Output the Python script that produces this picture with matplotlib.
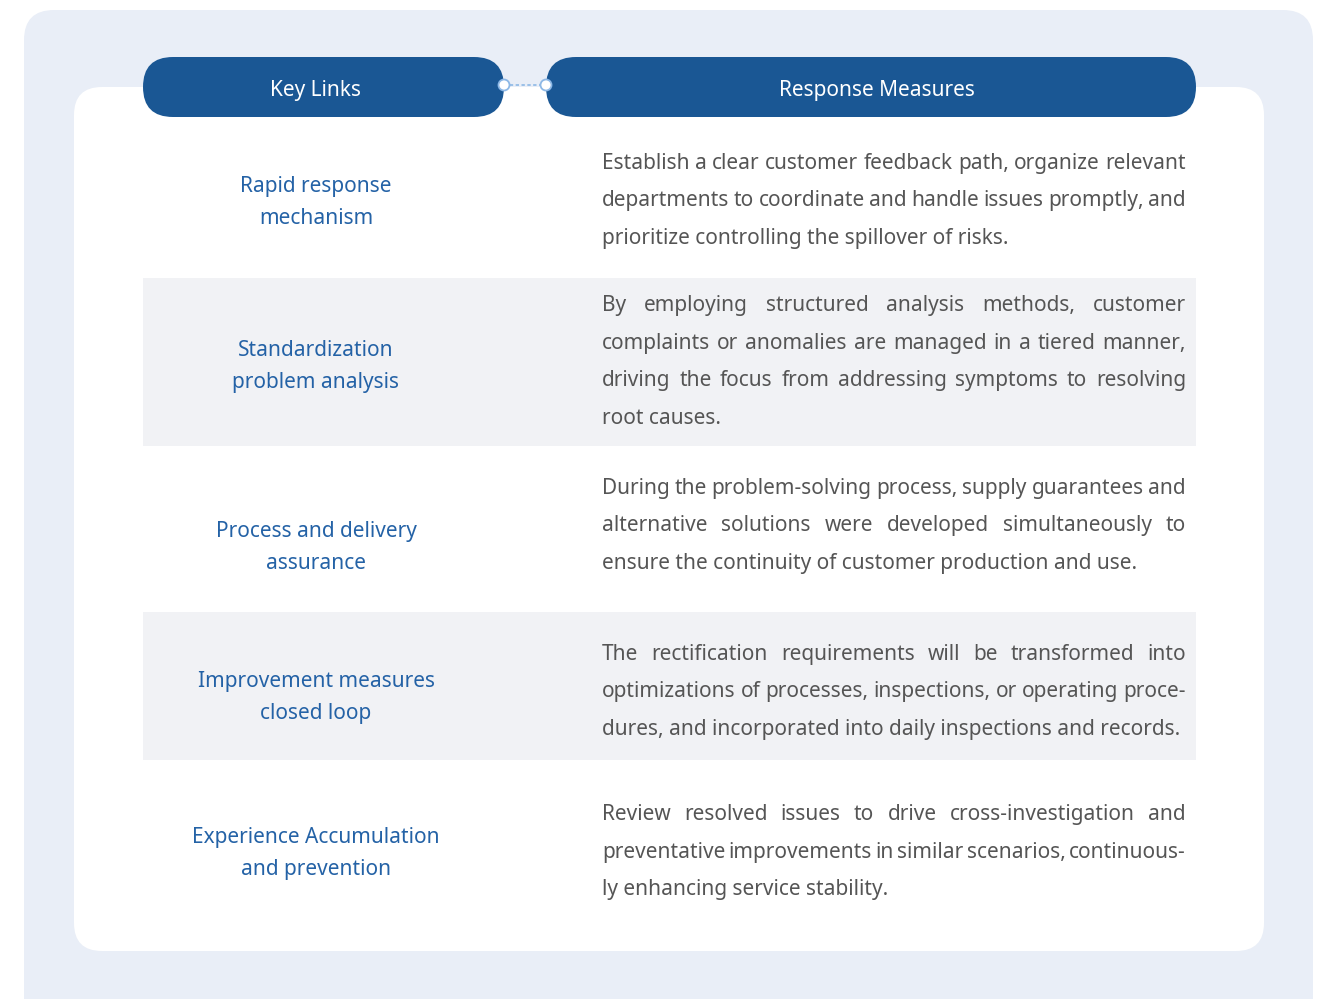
import math
import matplotlib
matplotlib.use("Agg")
import matplotlib.pyplot as plt
from matplotlib.patches import FancyBboxPatch, Rectangle, Circle

plt.rcParams['font.family'] = ['Noto Sans', 'DejaVu Sans']

# table content
headers = ["Key Links", "Response Measures"]
key_links = [
    ["Rapid response", "mechanism"],
    ["Standardization", "problem analysis"],
    ["Process and delivery", "assurance"],
    ["Improvement measures", "closed loop"],
    ["Experience Accumulation", "and prevention"],
]
measures = [
    ["Establish a clear customer feedback path, organize relevant",
     "departments to coordinate and handle issues promptly, and",
     "prioritize controlling the spillover of risks."],
    ["By employing structured analysis methods, customer",
     "complaints or anomalies are managed in a tiered manner,",
     "driving the focus from addressing symptoms to resolving",
     "root causes."],
    ["During the problem-solving process, supply guarantees and",
     "alternative solutions were developed simultaneously to",
     "ensure the continuity of customer production and use."],
    ["The rectification requirements will be transformed into",
     "optimizations of processes, inspections, or operating proce-",
     "dures, and incorporated into daily inspections and records."],
    ["Review resolved issues to drive cross-investigation and",
     "preventative improvements in similar scenarios, continuous-",
     "ly enhancing service stability."],
]

# layout (pixels)
row_top = [118, 278, 446, 612, 760]
row_bot = [278, 446, 612, 760, 945]
left_mid = [200, 364, 545, 695, 851]
right_mid = [200, 361.5, 525, 691, 851.5]

W, H = 1325, 999
fig = plt.figure(figsize=(W / 100, H / 100), dpi=100)
ax = fig.add_axes([0, 0, 1, 1])
ax.set_xlim(0, W)
ax.set_ylim(H, 0)
ax.axis("off")

navy = "#1A5794"
blue_txt = "#2462A6"
grey_txt = "#555555"
band = "#F1F2F5"
light = "#E9EEF7"
dy = 2.5  # va=center sits a bit high

ax.add_patch(FancyBboxPatch((24, 10), 1289, 1030, boxstyle="round,pad=0,rounding_size=30",
                            fc=light, ec="none"))
ax.add_patch(FancyBboxPatch((74, 87), 1190, 864, boxstyle="round,pad=0,rounding_size=28",
                            fc="white", ec="none"))

for i in range(len(key_links)):
    if i % 2 == 1:
        ax.add_patch(Rectangle((143, row_top[i]), 1053, row_bot[i] - row_top[i], fc=band, ec="none"))

# header pills
ax.add_patch(FancyBboxPatch((143, 57), 361, 60, boxstyle="round,pad=0,rounding_size=30",
                            fc=navy, ec="none", zorder=3))
ax.add_patch(FancyBboxPatch((546, 57), 650, 60, boxstyle="round,pad=0,rounding_size=30",
                            fc=navy, ec="none", zorder=3))
ax.plot([504, 546], [85, 85], ls=(0, (2, 1.5)), color="#8DB8E6", lw=1.2, zorder=4)
for cx in (504, 546):
    ax.add_patch(Circle((cx, 85), 5.5, fc="white", ec="#8DB8E6", lw=1.3, zorder=5))

ax.text(316, 88 + dy, headers[0], color="white", fontsize=15,
        ha="center", va="center", zorder=6)
ax.text(877, 88 + dy, headers[1], color="white", fontsize=15,
        ha="center", va="center", zorder=6)

fig.canvas.draw()
renderer = fig.canvas.get_renderer()

x0, x1 = 602, 1186
lh = 37.5
for i, lines in enumerate(measures):
    # key link
    for j, s in enumerate(key_links[i]):
        y = left_mid[i] + (j - (len(key_links[i]) - 1) / 2) * 32 + dy
        ax.text(316, y, s, color=blue_txt, fontsize=15, ha="center", va="center")
    n = len(lines)
    for j, line in enumerate(lines):
        # baseline on a quarter pixel so every word rounds the same way
        y = math.floor(right_mid[i] + (j - (n - 1) / 2) * lh + 6.5) + 0.25
        if j == n - 1:
            ax.text(x0, y, line, color=grey_txt, fontsize=15, ha="left", va="baseline")
            continue
        words = line.split(" ")
        objs = [ax.text(0, y, w, color=grey_txt, fontsize=15, ha="left", va="baseline") for w in words]
        widths = [o.get_window_extent(renderer).width for o in objs]
        gap = (x1 - x0 - sum(widths)) / (len(words) - 1)
        x = x0
        for o, w in zip(objs, widths):
            o.set_x(x)
            x += w + gap

fig.savefig("out.png", dpi=100, facecolor="white")
